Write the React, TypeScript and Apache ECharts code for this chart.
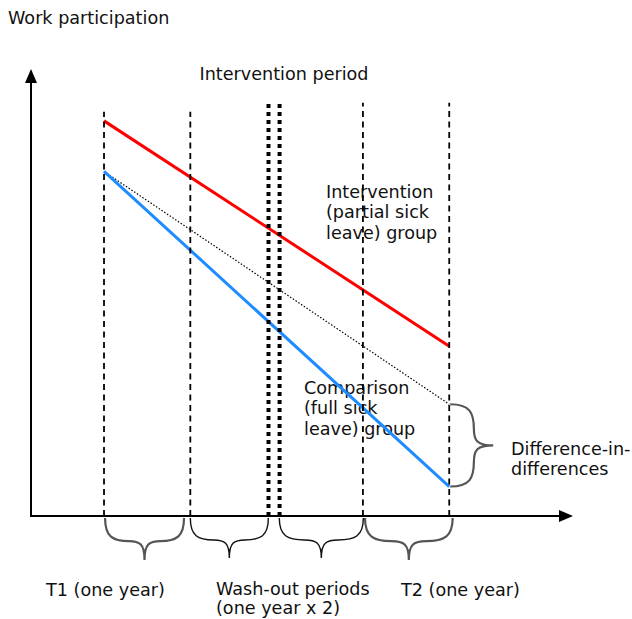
import React, { useEffect, useRef } from "react";
import * as echarts from "echarts";

// ---- data (years on x, work participation index on y) ----
const PHASE_BOUNDS = [0, 1, 1.906, 2.034, 3, 4];
const BOUND_TOPS = [91.9, 91.9, 93.9, 93.9, 93.9, 93.9];
const BOUND_KIND = ["dash", "dash", "thick", "thick", "dash", "dash"];
const TIMES = [0, 4];
const INTERVENTION = [89.8, 38.6];
const COMPARISON = [78.3, 6.7];
const COUNTERFACTUAL = [78.3, 25.4];
const BRACE_SPANS = [
  [0.012, 0.927],
  [1.0, 1.904],
  [2.031, 3.005],
  [3.024, 4.04],
];
const BRACE_TONE = ["grey", "black", "black", "grey"];
const DID_AT = 4;
const DID_SPAN = [25.4, 6.7];

const LABELS = [
  "Work participation",
  "Intervention period",
  "Intervention\n(partial sick\nleave) group",
  "Comparison\n(full sick\nleave) group",
  "Difference-in-\ndifferences",
  "T1 (one year)",
  "Wash-out periods\n(one year x 2)",
  "T2 (one year)",
];

// ---- layout ----
const X_MIN = -0.846;
const X_MAX = 5.353;
const LABEL_POS = [
  { x: 8, y: 18, align: "left", lh: 20 },
  { x: 284, y: 74, align: "center", lh: 20 },
  { x: 326, y: 212, align: "left", lh: 20.5 },
  { x: 304, y: 408, align: "left", lh: 20.5 },
  { x: 511, y: 459, align: "left", lh: 20.5 },
  { x: 46, y: 590, align: "left", lh: 20 },
  { x: 216, y: 598, align: "left", lh: 19 },
  { x: 401, y: 590, align: "left", lh: 20 },
];

const FONT = '17.6px "DejaVu Sans", Verdana, sans-serif';

function bracePath(
  u1: number,
  u2: number,
  v: number,
  D: number,
  map: (u: number, v: number) => [number, number]
) {
  const w = u2 - u1;
  const m = (u1 + u2) / 2;
  const h = v + 0.55 * D;
  const p = (u: number, vv: number) => {
    const q = map(u, vv);
    return `${q[0].toFixed(2)},${q[1].toFixed(2)}`;
  };
  return (
    `M${p(u1, v)} C${p(u1, v + 0.45 * D)} ${p(u1 + 0.1 * w, h)} ${p(u1 + 0.3 * w, h)} ` +
    `C${p(u1 + 0.44 * w, h)} ${p(m, v + 0.62 * D)} ${p(m, v + D)} ` +
    `C${p(m, v + 0.62 * D)} ${p(u2 - 0.44 * w, h)} ${p(u2 - 0.3 * w, h)} ` +
    `C${p(u2 - 0.1 * w, h)} ${p(u2, v + 0.45 * D)} ${p(u2, v)}`
  );
}

export default function App() {
  const ref = useRef<HTMLDivElement>(null);
  useEffect(() => {
    if (!ref.current) return;
    const chart = echarts.init(ref.current, null, { renderer: "svg" });

    const boundSeries = PHASE_BOUNDS.map((x, i) => ({
      type: "line",
      symbol: "none",
      silent: true,
      z: 5,
      data: [
        [x, 0],
        [x, BOUND_TOPS[i]],
      ],
      lineStyle:
        BOUND_KIND[i] === "thick"
          ? { color: "#000", width: 4, type: [4, 4] }
          : { color: "#000", width: 1.8, type: [6, 4.5] },
    }));

    const trend = (vals: number[], style: any) => ({
      type: "line",
      symbol: "none",
      silent: true,
      z: 3,
      data: TIMES.map((t, i) => [t, vals[i]]),
      lineStyle: style,
    });

    const axisCommon = {
      axisTick: { show: false },
      axisLabel: { show: false },
      splitLine: { show: false },
    };

    const option: any = {
      animation: false,
      grid: { left: 31, right: 66, top: 76, bottom: 103 },
      xAxis: {
        type: "value",
        min: X_MIN,
        max: X_MAX,
        axisLine: {
          show: true,
          onZero: false,
          symbol: ["none", "triangle"],
          symbolSize: [12, 14],
          lineStyle: { color: "#000", width: 2 },
        },
        ...axisCommon,
      },
      yAxis: {
        type: "value",
        min: 0,
        max: 100,
        axisLine: {
          show: true,
          onZero: false,
          symbol: ["none", "triangle"],
          symbolSize: [12, 14],
          lineStyle: { color: "#000", width: 2 },
        },
        ...axisCommon,
      },
      series: [
        trend(COUNTERFACTUAL, { color: "#000", width: 1.2, type: [1.5, 1.8] }),
        trend(INTERVENTION, { color: "#ff0000", width: 3 }),
        trend(COMPARISON, { color: "#1e8cff", width: 3 }),
        ...boundSeries,
        {
          type: "custom",
          silent: true,
          clip: false,
          encode: { x: [0, 1] },
          data: BRACE_SPANS.map((s, i) => [s[0], s[1], i]),
          renderItem: (params: any, api: any) => {
            const a = api.coord([api.value(0), 0]);
            const b = api.coord([api.value(1), 0]);
            const idx = api.value(2);
            const grey = BRACE_TONE[idx] === "grey";
            return {
              type: "path",
              shape: {
                pathData: bracePath(a[0], b[0], a[1] + 2, grey ? 42 : 40, (u, v) => [u, v]),
              },
              style: {
                stroke: grey ? "#555" : "#111",
                fill: "none",
                lineWidth: grey ? 2.2 : 1.4,
              },
            };
          },
        },
        {
          type: "custom",
          silent: true,
          clip: false,
          encode: { x: 0, y: [1, 2] },
          data: [[DID_AT, DID_SPAN[0], DID_SPAN[1]]],
          renderItem: (params: any, api: any) => {
            const a = api.coord([api.value(0), api.value(1)]);
            const b = api.coord([api.value(0), api.value(2)]);
            return {
              type: "path",
              shape: {
                pathData: bracePath(a[1], b[1], a[0] + 1, 43, (u, v) => [v, u]),
              },
              style: { stroke: "#555", fill: "none", lineWidth: 2.2 },
            };
          },
        },
      ],
      graphic: LABELS.map((text, i) => ({
        type: "text",
        x: LABEL_POS[i].x,
        y: LABEL_POS[i].y,
        silent: true,
        style: {
          text,
          font: FONT,
          fill: "#111",
          textAlign: LABEL_POS[i].align,
          textVerticalAlign: "middle",
          lineHeight: LABEL_POS[i].lh,
        },
      })),
    };
    chart.setOption(option);
    return () => chart.dispose();
  }, []);
  return (
    <div
      ref={ref}
      style={{ position: "fixed", left: 0, top: 0, width: 632, height: 619, background: "#fff" }}
    />
  );
}
